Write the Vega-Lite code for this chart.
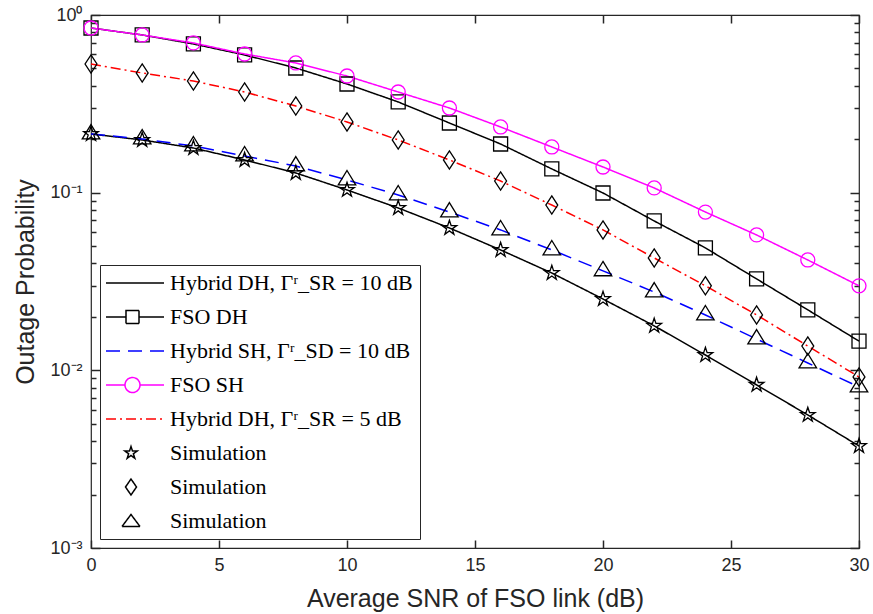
{
  "$schema": "https://vega.github.io/schema/vega-lite/v6.json",
  "width": 768,
  "height": 533,
  "autosize": {"type": "none"},
  "padding": {"left": 91, "top": 15, "right": 14, "bottom": 66},
  "background": "white",
  "config": {
    "view": {"stroke": "#262626", "strokeWidth": 1.2},
    "axis": {"grid": false, "domain": false, "ticks": true, "zindex": 1, "tickColor": "#262626", "labelColor": "#262626", "titleColor": "#262626", "labelFont": "Liberation Sans", "titleFont": "Liberation Sans", "titleFontWeight": "normal", "labelFlush": false, "labelOverlap": false, "tickWidth": 1.5}
  },
  "data": {"values": [
    {"snr":0,"p":0.2139,"series":"HDH10"},{"snr":2,"p":0.198,"series":"HDH10"},{"snr":4,"p":0.1784,"series":"HDH10"},{"snr":6,"p":0.1528,"series":"HDH10"},{"snr":8,"p":0.1291,"series":"HDH10"},{"snr":10,"p":0.1036,"series":"HDH10"},{"snr":12,"p":0.082,"series":"HDH10"},{"snr":14,"p":0.0633,"series":"HDH10"},{"snr":16,"p":0.0476,"series":"HDH10"},{"snr":18,"p":0.0353,"series":"HDH10"},{"snr":20,"p":0.0252,"series":"HDH10"},{"snr":22,"p":0.0178,"series":"HDH10"},{"snr":24,"p":0.0122,"series":"HDH10"},{"snr":26,"p":0.00828,"series":"HDH10"},{"snr":28,"p":0.00561,"series":"HDH10"},{"snr":30,"p":0.00375,"series":"HDH10"},
    {"snr":0,"p":0.845,"series":"FSODH"},{"snr":2,"p":0.772,"series":"FSODH"},{"snr":4,"p":0.687,"series":"FSODH"},{"snr":6,"p":0.596,"series":"FSODH"},{"snr":8,"p":0.503,"series":"FSODH"},{"snr":10,"p":0.409,"series":"FSODH"},{"snr":12,"p":0.324,"series":"FSODH"},{"snr":14,"p":0.2467,"series":"FSODH"},{"snr":16,"p":0.1879,"series":"FSODH"},{"snr":18,"p":0.136,"series":"FSODH"},{"snr":20,"p":0.0996,"series":"FSODH"},{"snr":22,"p":0.0693,"series":"FSODH"},{"snr":24,"p":0.0489,"series":"FSODH"},{"snr":26,"p":0.0327,"series":"FSODH"},{"snr":28,"p":0.0219,"series":"FSODH"},{"snr":30,"p":0.0146,"series":"FSODH"},
    {"snr":0,"p":0.2139,"series":"HSH10"},{"snr":2,"p":0.2006,"series":"HSH10"},{"snr":4,"p":0.1832,"series":"HSH10"},{"snr":6,"p":0.1609,"series":"HSH10"},{"snr":8,"p":0.1413,"series":"HSH10"},{"snr":10,"p":0.1179,"series":"HSH10"},{"snr":12,"p":0.0971,"series":"HSH10"},{"snr":14,"p":0.0778,"series":"HSH10"},{"snr":16,"p":0.0617,"series":"HSH10"},{"snr":18,"p":0.0476,"series":"HSH10"},{"snr":20,"p":0.0363,"series":"HSH10"},{"snr":22,"p":0.0276,"series":"HSH10"},{"snr":24,"p":0.0205,"series":"HSH10"},{"snr":26,"p":0.015,"series":"HSH10"},{"snr":28,"p":0.011,"series":"HSH10"},{"snr":30,"p":0.00806,"series":"HSH10"},
    {"snr":0,"p":0.845,"series":"FSOSH"},{"snr":2,"p":0.772,"series":"FSOSH"},{"snr":4,"p":0.696,"series":"FSOSH"},{"snr":6,"p":0.6034,"series":"FSOSH"},{"snr":8,"p":0.537,"series":"FSOSH"},{"snr":10,"p":0.4535,"series":"FSOSH"},{"snr":12,"p":0.3687,"series":"FSOSH"},{"snr":14,"p":0.2997,"series":"FSOSH"},{"snr":16,"p":0.2343,"series":"FSOSH"},{"snr":18,"p":0.1808,"series":"FSOSH"},{"snr":20,"p":0.1395,"series":"FSOSH"},{"snr":22,"p":0.1063,"series":"FSOSH"},{"snr":24,"p":0.0778,"series":"FSOSH"},{"snr":26,"p":0.0578,"series":"FSOSH"},{"snr":28,"p":0.0418,"series":"FSOSH"},{"snr":30,"p":0.0299,"series":"FSOSH"},
    {"snr":0,"p":0.53,"series":"HDH5"},{"snr":2,"p":0.4717,"series":"HDH5"},{"snr":4,"p":0.4251,"series":"HDH5"},{"snr":6,"p":0.3687,"series":"HDH5"},{"snr":8,"p":0.3075,"series":"HDH5"},{"snr":10,"p":0.25,"series":"HDH5"},{"snr":12,"p":0.198,"series":"HDH5"},{"snr":14,"p":0.1528,"series":"HDH5"},{"snr":16,"p":0.1163,"series":"HDH5"},{"snr":18,"p":0.0852,"series":"HDH5"},{"snr":20,"p":0.0617,"series":"HDH5"},{"snr":22,"p":0.0429,"series":"HDH5"},{"snr":24,"p":0.0299,"series":"HDH5"},{"snr":26,"p":0.0205,"series":"HDH5"},{"snr":28,"p":0.0137,"series":"HDH5"},{"snr":30,"p":0.00918,"series":"HDH5"},
    {"snr":0,"p":0.2139,"series":"SimStar"},{"snr":2,"p":0.198,"series":"SimStar"},{"snr":4,"p":0.1784,"series":"SimStar"},{"snr":6,"p":0.1528,"series":"SimStar"},{"snr":8,"p":0.1291,"series":"SimStar"},{"snr":10,"p":0.1036,"series":"SimStar"},{"snr":12,"p":0.082,"series":"SimStar"},{"snr":14,"p":0.0633,"series":"SimStar"},{"snr":16,"p":0.0476,"series":"SimStar"},{"snr":18,"p":0.0353,"series":"SimStar"},{"snr":20,"p":0.0252,"series":"SimStar"},{"snr":22,"p":0.0178,"series":"SimStar"},{"snr":24,"p":0.0122,"series":"SimStar"},{"snr":26,"p":0.00828,"series":"SimStar"},{"snr":28,"p":0.00561,"series":"SimStar"},{"snr":30,"p":0.00375,"series":"SimStar"},
    {"snr":0,"p":0.53,"series":"SimDiamond"},{"snr":2,"p":0.4717,"series":"SimDiamond"},{"snr":4,"p":0.4251,"series":"SimDiamond"},{"snr":6,"p":0.3687,"series":"SimDiamond"},{"snr":8,"p":0.3075,"series":"SimDiamond"},{"snr":10,"p":0.25,"series":"SimDiamond"},{"snr":12,"p":0.198,"series":"SimDiamond"},{"snr":14,"p":0.1528,"series":"SimDiamond"},{"snr":16,"p":0.1163,"series":"SimDiamond"},{"snr":18,"p":0.0852,"series":"SimDiamond"},{"snr":20,"p":0.0617,"series":"SimDiamond"},{"snr":22,"p":0.0429,"series":"SimDiamond"},{"snr":24,"p":0.0299,"series":"SimDiamond"},{"snr":26,"p":0.0205,"series":"SimDiamond"},{"snr":28,"p":0.0137,"series":"SimDiamond"},{"snr":30,"p":0.00918,"series":"SimDiamond"},
    {"snr":0,"p":0.2139,"series":"SimTri"},{"snr":2,"p":0.2006,"series":"SimTri"},{"snr":4,"p":0.1832,"series":"SimTri"},{"snr":6,"p":0.1609,"series":"SimTri"},{"snr":8,"p":0.1413,"series":"SimTri"},{"snr":10,"p":0.1179,"series":"SimTri"},{"snr":12,"p":0.0971,"series":"SimTri"},{"snr":14,"p":0.0778,"series":"SimTri"},{"snr":16,"p":0.0617,"series":"SimTri"},{"snr":18,"p":0.0476,"series":"SimTri"},{"snr":20,"p":0.0363,"series":"SimTri"},{"snr":22,"p":0.0276,"series":"SimTri"},{"snr":24,"p":0.0205,"series":"SimTri"},{"snr":26,"p":0.015,"series":"SimTri"},{"snr":28,"p":0.011,"series":"SimTri"},{"snr":30,"p":0.00806,"series":"SimTri"}
  ]},
  "resolve": {"axis": {"x": "independent", "y": "independent"}},
  "layer": [
    {
      "transform": [{"filter": {"field": "series", "oneOf": ["HDH10", "FSODH", "HSH10", "FSOSH", "HDH5"]}}],
      "mark": {"type": "line", "strokeWidth": 1.5},
      "encoding": {
        "x": {"field": "snr", "type": "quantitative", "scale": {"domain": [0, 30], "nice": false, "zero": false},
          "axis": {"orient": "bottom", "values": [0, 5, 10, 15, 20, 25, 30], "offset": -8, "tickSize": 8, "labelPadding": 8, "labelFontSize": 18, "title": "Average SNR of FSO link (dB)", "titleFontSize": 25, "titlePadding": 12}},
        "y": {"field": "p", "type": "quantitative", "scale": {"type": "log", "domain": [0.001, 1], "nice": false},
          "axis": {"orient": "left", "values": [0.001, 0.01, 0.1, 1], "offset": -9, "tickSize": 9, "labelPadding": 9, "labelFontSize": 18,
            "labelExpr": "'10' + (datum.value >= 0.99 ? '⁰' : datum.value >= 0.099 ? '⁻¹' : datum.value >= 0.0099 ? '⁻²' : '⁻³')",
            "title": "Outage Probability", "titleFontSize": 25, "titlePadding": 11}},
        "color": {"field": "series", "type": "nominal",
          "scale": {"domain": ["HDH10", "FSODH", "HSH10", "FSOSH", "HDH5", "SimStar", "SimDiamond", "SimTri"], "range": ["#000000", "#000000", "#0000ff", "#ff00ff", "#ff0000", "#000000", "#000000", "#000000"]},
          "legend": {
            "title": null, "orient": "bottom-left", "offset": 9, "padding": 7, "rowPadding": 12, "zindex": 2,
            "fillColor": "white", "strokeColor": "#262626",
            "symbolSize": 100, "symbolStrokeWidth": 1.5,
            "labelFont": "Liberation Serif", "labelFontSize": 22, "labelColor": "#000000", "labelOffset": 41, "labelLimit": 400,
            "labelExpr": "datum.value == 'HDH10' ? 'Hybrid DH, Γʳ_SR = 10 dB' : datum.value == 'FSODH' ? 'FSO DH' : datum.value == 'HSH10' ? 'Hybrid SH, Γʳ_SD = 10 dB' : datum.value == 'FSOSH' ? 'FSO SH' : datum.value == 'HDH5' ? 'Hybrid DH, Γʳ_SR = 5 dB' : 'Simulation'",
            "encode": {"symbols": {"update": {
              "shape": {"signal": "(datum.value == 'HDH10' || datum.value == 'HSH10' || datum.value == 'HDH5') ? 'M-2.4,0L9.2,0' : datum.value == 'FSODH' ? 'M-2.4,0L1.6,0M4.2,0L9.2,0M1.6,-1.3L4.2,-1.3L4.2,1.3L1.6,1.3Z' : datum.value == 'FSOSH' ? 'M-2.4,0L1.4,0M4.4,0L9.2,0M1.4,0A1.5,1.5 0 1,1 4.4,0A1.5,1.5 0 1,1 1.4,0' : datum.value == 'SimStar' ? 'M2.6,-1.3L2.892,-0.402L3.836,-0.402L3.072,0.153L3.364,1.052L2.6,0.497L1.836,1.052L2.128,0.153L1.364,-0.402L2.308,-0.402Z' : datum.value == 'SimDiamond' ? 'M2.6,-1.6L3.7,0L2.6,1.6L1.5,0Z' : 'M2.6,-1.3L4.4,1.1L0.8,1.1Z'"},
              "strokeDash": {"signal": "datum.value == 'HSH10' ? [14, 8] : datum.value == 'HDH5' ? [10, 4, 2, 4] : [1, 0]"},
              "fill": {"value": "transparent"}
            }}}
          }},
        "strokeDash": {"field": "series", "type": "nominal",
          "scale": {"domain": ["HDH10", "FSODH", "HSH10", "FSOSH", "HDH5"], "range": [[1, 0], [1, 0], [14, 8], [1, 0], [10, 4, 2, 4]]}, "legend": null}
      }
    },
    {
      "transform": [{"filter": {"field": "series", "oneOf": ["FSODH", "FSOSH"]}}],
      "mark": {"type": "point", "filled": false, "size": 196, "strokeWidth": 1.3, "opacity": 1},
      "encoding": {
        "x": {"field": "snr", "type": "quantitative", "scale": {"domain": [0, 30], "nice": false, "zero": false},
          "axis": {"orient": "top", "values": [0, 5, 10, 15, 20, 25, 30], "offset": -8, "tickSize": 8, "labels": false, "title": null}},
        "y": {"field": "p", "type": "quantitative", "scale": {"type": "log", "domain": [0.001, 1], "nice": false},
          "axis": {"orient": "left", "values": [0.002, 0.003, 0.004, 0.005, 0.006, 0.007, 0.008, 0.009, 0.02, 0.03, 0.04, 0.05, 0.06, 0.07, 0.08, 0.09, 0.2, 0.3, 0.4, 0.5, 0.6, 0.7, 0.8, 0.9], "offset": -5, "tickSize": 5, "labels": false, "title": null}},
        "color": {"field": "series", "type": "nominal",
          "scale": {"domain": ["HDH10", "FSODH", "HSH10", "FSOSH", "HDH5", "SimStar", "SimDiamond", "SimTri"], "range": ["#000000", "#000000", "#0000ff", "#ff00ff", "#ff0000", "#000000", "#000000", "#000000"]}, "legend": null},
        "shape": {"field": "series", "type": "nominal",
          "scale": {"domain": ["FSODH", "FSOSH", "SimStar", "SimDiamond", "SimTri"], "range": ["square", "circle", "M0,-1.1L0.247,-0.34L1.046,-0.34L0.4,0.13L0.647,0.89L0,0.42L-0.647,0.89L-0.4,0.13L-1.046,-0.34L-0.247,-0.34Z", "M0,-1.3L0.85,0L0,1.3L-0.85,0Z", "M0,-1.35L1.25,0.7L-1.25,0.7Z"]}, "legend": null}
      }
    },
    {
      "transform": [{"filter": {"field": "series", "equal": "SimStar"}}],
      "mark": {"type": "point", "filled": false, "size": 196, "strokeWidth": 1.3, "opacity": 1},
      "encoding": {
        "x": {"field": "snr", "type": "quantitative", "scale": {"domain": [0, 30], "nice": false, "zero": false}, "axis": null},
        "y": {"field": "p", "type": "quantitative", "scale": {"type": "log", "domain": [0.001, 1], "nice": false},
          "axis": {"orient": "right", "values": [0.001, 0.01, 0.1, 1], "offset": -9, "tickSize": 9, "labels": false, "title": null}},
        "color": {"field": "series", "type": "nominal",
          "scale": {"domain": ["HDH10", "FSODH", "HSH10", "FSOSH", "HDH5", "SimStar", "SimDiamond", "SimTri"], "range": ["#000000", "#000000", "#0000ff", "#ff00ff", "#ff0000", "#000000", "#000000", "#000000"]}, "legend": null},
        "shape": {"field": "series", "type": "nominal",
          "scale": {"domain": ["FSODH", "FSOSH", "SimStar", "SimDiamond", "SimTri"], "range": ["square", "circle", "M0,-1.1L0.247,-0.34L1.046,-0.34L0.4,0.13L0.647,0.89L0,0.42L-0.647,0.89L-0.4,0.13L-1.046,-0.34L-0.247,-0.34Z", "M0,-1.3L0.85,0L0,1.3L-0.85,0Z", "M0,-1.35L1.25,0.7L-1.25,0.7Z"]}, "legend": null}
      }
    },
    {
      "transform": [{"filter": {"field": "series", "oneOf": ["SimDiamond", "SimTri"]}}],
      "mark": {"type": "point", "filled": false, "size": 196, "strokeWidth": 1.3, "opacity": 1},
      "encoding": {
        "x": {"field": "snr", "type": "quantitative", "scale": {"domain": [0, 30], "nice": false, "zero": false}, "axis": null},
        "y": {"field": "p", "type": "quantitative", "scale": {"type": "log", "domain": [0.001, 1], "nice": false},
          "axis": {"orient": "right", "values": [0.002, 0.003, 0.004, 0.005, 0.006, 0.007, 0.008, 0.009, 0.02, 0.03, 0.04, 0.05, 0.06, 0.07, 0.08, 0.09, 0.2, 0.3, 0.4, 0.5, 0.6, 0.7, 0.8, 0.9], "offset": -5, "tickSize": 5, "labels": false, "title": null}},
        "color": {"field": "series", "type": "nominal",
          "scale": {"domain": ["HDH10", "FSODH", "HSH10", "FSOSH", "HDH5", "SimStar", "SimDiamond", "SimTri"], "range": ["#000000", "#000000", "#0000ff", "#ff00ff", "#ff0000", "#000000", "#000000", "#000000"]}, "legend": null},
        "shape": {"field": "series", "type": "nominal",
          "scale": {"domain": ["FSODH", "FSOSH", "SimStar", "SimDiamond", "SimTri"], "range": ["square", "circle", "M0,-1.1L0.247,-0.34L1.046,-0.34L0.4,0.13L0.647,0.89L0,0.42L-0.647,0.89L-0.4,0.13L-1.046,-0.34L-0.247,-0.34Z", "M0,-1.3L0.85,0L0,1.3L-0.85,0Z", "M0,-1.35L1.25,0.7L-1.25,0.7Z"]}, "legend": null}
      }
    }
  ]
}
